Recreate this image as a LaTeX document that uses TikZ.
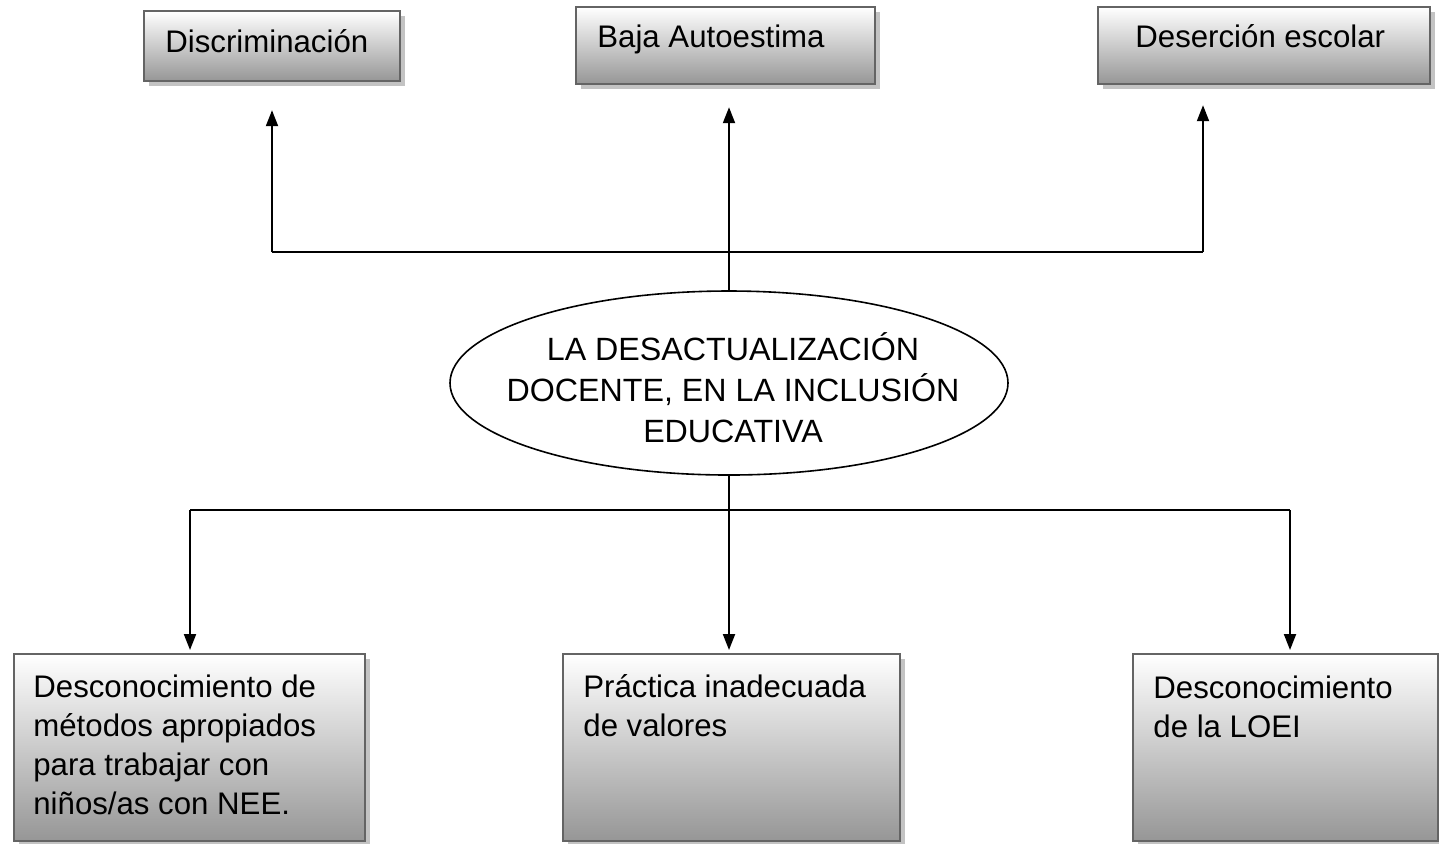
\documentclass[tikz,border=0pt]{standalone}
\usepackage{fontspec}
\setmainfont{Liberation Sans}
\usetikzlibrary{shapes.geometric,arrows.meta,shadows}
\definecolor{boxline}{RGB}{100,100,100}
\definecolor{boxbot}{RGB}{150,150,150}
\definecolor{shade}{RGB}{195,195,195}
\begin{document}
\begin{tikzpicture}[x=0.5pt,y=-0.5pt,
  box/.style={draw=boxline, line width=1.1pt, top color=white, bottom color=boxbot,
    drop shadow={shadow xshift=2.5pt, shadow yshift=-2.5pt, fill=shade, opacity=1},
    inner sep=0pt, anchor=north west},
  txt/.style={font=\fontsize{15.6pt}{19.4pt}\selectfont, inner sep=0pt, align=left, anchor=base west},
  conn/.style={line width=1pt, black},
  arr/.style={conn, -{Triangle[width=6pt,length=8pt]}}
]
\useasboundingbox (0,0) rectangle (1439,843);
\fill[white] (0,0) rectangle (1439,843);

% top boxes
\node[box, minimum width=128pt, minimum height=35pt] (d1) at (143,10) {};
\node[box, minimum width=149.5pt, minimum height=38.5pt] (d2) at (575,6) {};
\node[box, minimum width=166pt, minimum height=38.5pt] (d3) at (1097,6) {};
\node[txt] (t1) at (165,52) {Discriminación};
\node[txt] (t2) at (597,47) {Baja Autoestima};
\node[txt] (t3) at (1135,47) {Deserción escolar};

% bottom boxes
\node[box, minimum width=175.5pt, minimum height=93.5pt] (pA) at (13,653) {};
\node[box, minimum width=168.5pt, minimum height=93.5pt] (pB) at (562,653) {};
\node[box, minimum width=152.5pt, minimum height=93.5pt] (pC) at (1132,653) {};
% base anchor of a multi-line node is the baseline of its last line
\node[txt] (tA) at (33,814) {Desconocimiento de\\métodos apropiados\\para trabajar con\\niños/as con NEE.};
\node[txt] (tB) at (583,736) {Práctica inadecuada\\de valores};
\node[txt] (tC) at (1153,737) {Desconocimiento\\de la LOEI};

% central ellipse
\node[ellipse, draw, line width=0.8pt, minimum width=279pt, minimum height=92pt, inner sep=0pt] (e) at (729,383) {};
\node[font=\fontsize{16.1pt}{20.5pt}\selectfont, align=center, inner sep=0pt] (te) at (733,388)
  {LA DESACTUALIZACIÓN\\DOCENTE, EN LA INCLUSIÓN\\EDUCATIVA};

% connectors top
\coordinate (tj) at (729,252);
\coordinate (tl) at (272,252);
\coordinate (tr) at (1203,252);
\draw[conn] (e.north) -- (tj);
\draw[conn] (tl) -- (tr);
\draw[arr, shorten >=14pt] (tl) -- (tl |- d1.south);
\draw[arr, shorten >=11pt] (tj) -- (tj |- d2.south);
\draw[arr, shorten >=10pt] (tr) -- (tr |- d3.south);

% connectors bottom
\coordinate (bj) at (729,510);
\coordinate (bl) at (190,510);
\coordinate (br) at (1290,510);
\draw[conn] (e.south) -- (bj);
\draw[conn] (bl) -- (br);
\draw[arr, shorten >=1.5pt] (bl) -- (bl |- pA.north);
\draw[arr, shorten >=1.5pt] (bj) -- (bj |- pB.north);
\draw[arr, shorten >=1.5pt] (br) -- (br |- pC.north);
\end{tikzpicture}
\end{document}
